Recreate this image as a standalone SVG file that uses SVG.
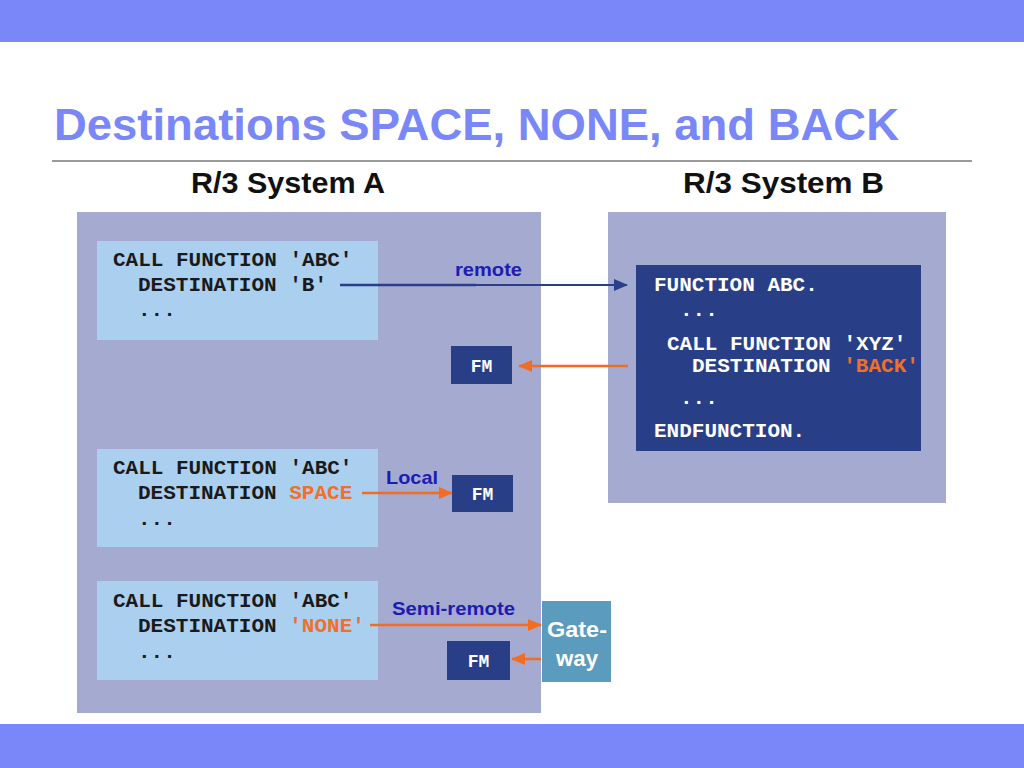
<svg xmlns="http://www.w3.org/2000/svg" width="1024" height="768" viewBox="0 0 1024 768">
<defs>
<style>
.band{fill:#7987f9}
.title{font-family:"Liberation Sans",Arial,sans-serif;font-weight:bold;font-size:45px;fill:#7987f9}
.sys{font-family:"Liberation Sans",Arial,sans-serif;font-weight:bold;font-size:30px;fill:#111}
.sysbox{fill:#a4aad0}
.code{fill:#abcfef}
.dark{fill:#283f87}
.gw{fill:#5b9bbd}
.mono{font-family:"Liberation Mono","Courier New",monospace;font-weight:bold;font-size:21px;fill:#1a1a1a}
.monow{font-family:"Liberation Mono","Courier New",monospace;font-weight:bold;font-size:21px;fill:#ffffff}
.or{fill:#f0702a}
.fm{font-family:"Liberation Mono","Courier New",monospace;font-weight:bold;font-size:18px;fill:#ffffff}
.lbl{font-family:"Liberation Sans",Arial,sans-serif;font-weight:bold;font-size:19px;fill:#1c1cb4}
.gwt{font-family:"Liberation Sans",Arial,sans-serif;font-weight:bold;font-size:22px;fill:#ffffff}
.oline{stroke:#f26d21;stroke-width:2.5;fill:none}
.nline{stroke:#2a3f8a;stroke-width:2;fill:none}
</style>
<marker id="ao" viewBox="0 0 14 12" refX="13" refY="6" markerWidth="14" markerHeight="12" markerUnits="userSpaceOnUse" orient="auto">
<path d="M0,0 L14,6 L0,12 Z" fill="#f26d21"/>
</marker>
<marker id="an" viewBox="0 0 14 12" refX="13" refY="6" markerWidth="14" markerHeight="12" markerUnits="userSpaceOnUse" orient="auto">
<path d="M0,0 L14,6 L0,12 Z" fill="#2a3f8a"/>
</marker>
</defs>

<rect class="band" x="0" y="0" width="1024" height="42"/>
<rect class="band" x="0" y="724" width="1024" height="44"/>
<text class="title" x="54" y="140" textLength="845" lengthAdjust="spacingAndGlyphs">Destinations SPACE, NONE, and BACK</text>
<line x1="52" y1="161" x2="972" y2="161" stroke="#7a7a7a" stroke-width="1.5"/>

<g id="systemA">
<rect class="sysbox" x="77" y="212" width="464" height="501"/>
<text class="sys" x="191" y="193" textLength="194" lengthAdjust="spacingAndGlyphs">R/3 System A</text>
</g>
<g id="systemB">
<rect class="sysbox" x="608" y="212" width="338" height="291"/>
<text class="sys" x="683" y="193" textLength="201" lengthAdjust="spacingAndGlyphs">R/3 System  B</text>
</g>

<g id="code1">
<rect class="code" x="97" y="241" width="281" height="99"/>
<text class="mono" x="113" y="266">CALL FUNCTION 'ABC'</text>
<text class="mono" x="138" y="291">DESTINATION 'B'</text>
<text class="mono" x="138" y="316">...</text>
</g>
<g id="code2">
<rect class="code" x="97" y="449" width="281" height="98"/>
<text class="mono" x="113" y="474">CALL FUNCTION 'ABC'</text>
<text class="mono" x="138" y="499">DESTINATION <tspan class="or">SPACE</tspan></text>
<text class="mono" x="138" y="525">...</text>
</g>
<g id="code3">
<rect class="code" x="97" y="581" width="281" height="99"/>
<text class="mono" x="113" y="607">CALL FUNCTION 'ABC'</text>
<text class="mono" x="138" y="632">DESTINATION <tspan class="or">'NONE'</tspan></text>
<text class="mono" x="138" y="658">...</text>
</g>

<g id="functionABC">
<rect class="dark" x="636" y="265" width="285" height="186"/>
<text class="monow" x="654" y="291">FUNCTION ABC.</text>
<text class="monow" x="680" y="316">...</text>
<text class="monow" x="667" y="350">CALL FUNCTION 'XYZ'</text>
<text class="monow" x="692" y="372">DESTINATION <tspan class="or">'BACK'</tspan></text>
<text class="monow" x="680" y="404">...</text>
<text class="monow" x="654" y="437">ENDFUNCTION.</text>
</g>

<g id="fm1">
<rect class="dark" x="451" y="346" width="61" height="38"/>
<text class="fm" x="481.5" y="372" text-anchor="middle">FM</text>
</g>
<g id="fm2">
<rect class="dark" x="452" y="475" width="61" height="37"/>
<text class="fm" x="482.5" y="500" text-anchor="middle">FM</text>
</g>
<g id="fm3">
<rect class="dark" x="447" y="641" width="63" height="39"/>
<text class="fm" x="478.5" y="667" text-anchor="middle">FM</text>
</g>
<g id="gateway">
<rect class="gw" x="542" y="601" width="69" height="81"/>
<text class="gwt" x="547" y="637" textLength="60" lengthAdjust="spacingAndGlyphs">Gate-</text>
<text class="gwt" x="556" y="666" textLength="42" lengthAdjust="spacingAndGlyphs">way</text>
</g>

<g id="connectors">
<line class="nline" x1="340" y1="285" x2="627" y2="285" marker-end="url(#an)"/>
<line x1="340" y1="285" x2="476" y2="285" stroke="#2a3f8a" stroke-width="2.5"/>
<text class="lbl" x="455" y="276" textLength="67" lengthAdjust="spacingAndGlyphs">remote</text>
<line class="oline" x1="628" y1="366" x2="519" y2="366" marker-end="url(#ao)"/>
<line class="oline" x1="362" y1="493" x2="452" y2="493" marker-end="url(#ao)"/>
<text class="lbl" x="386" y="484" textLength="52" lengthAdjust="spacingAndGlyphs">Local</text>
<line class="oline" x1="370" y1="625" x2="541" y2="625" marker-end="url(#ao)"/>
<text class="lbl" x="392" y="615" textLength="123" lengthAdjust="spacingAndGlyphs">Semi-remote</text>
<line class="oline" x1="541" y1="659" x2="512" y2="659" marker-end="url(#ao)"/>
</g>
</svg>
